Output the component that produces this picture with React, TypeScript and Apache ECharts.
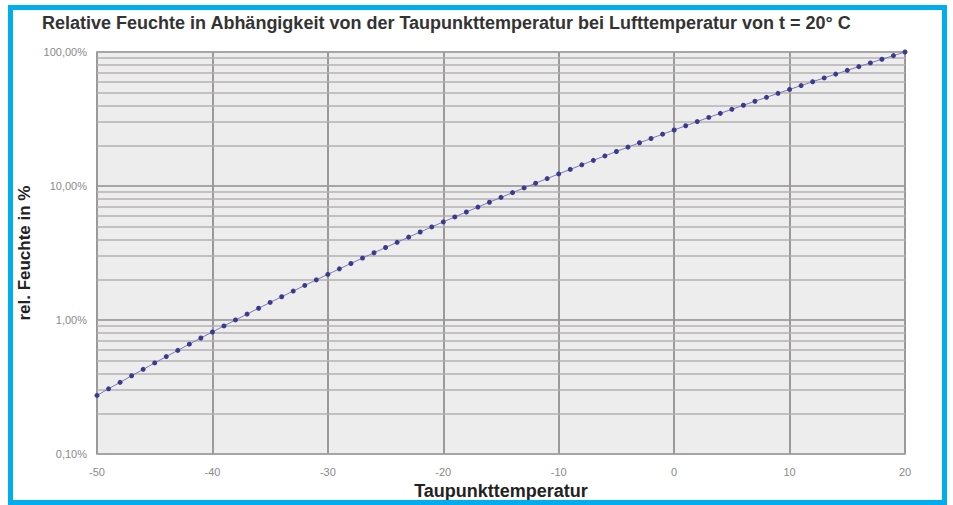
import React, { useEffect, useRef } from "react";
import * as echarts from "echarts";

const temps: number[] = [
  -50, -49, -48, -47, -46, -45, -44, -43, -42, -41,
  -40, -39, -38, -37, -36, -35, -34, -33, -32, -31,
  -30, -29, -28, -27, -26, -25, -24, -23, -22, -21,
  -20, -19, -18, -17, -16, -15, -14, -13, -12, -11,
  -10, -9, -8, -7, -6, -5, -4, -3, -2, -1,
  0, 1, 2, 3, 4, 5, 6, 7, 8, 9,
  10, 11, 12, 13, 14, 15, 16, 17, 18, 19, 20,
];

const humidity: number[] = [
  0.274, 0.307, 0.343, 0.384, 0.429, 0.479, 0.534, 0.594, 0.661, 0.735,
  0.815, 0.904, 1.002, 1.108, 1.225, 1.354, 1.493, 1.646, 1.813, 1.995,
  2.194, 2.41, 2.644, 2.9, 3.177, 3.478, 3.804, 4.157, 4.539, 4.953,
  5.4, 5.884, 6.404, 6.967, 7.573, 8.226, 8.929, 9.684, 10.5, 11.37,
  12.31, 13.31, 14.39, 15.54, 16.78, 18.1, 19.52, 21.03, 22.64, 24.36,
  26.2, 28.17, 30.26, 32.48, 34.85, 37.37, 40.06, 42.91, 45.93, 49.15,
  52.56, 56.18, 60.02, 64.08, 68.39, 72.95, 77.78, 82.88, 88.28, 93.98, 100,
];

const minorGridValues: number[] = [
  0.2, 0.3, 0.4, 0.5, 0.6, 0.7, 0.8, 0.9,
  2, 3, 4, 5, 6, 7, 8, 9,
  20, 30, 40, 50, 60, 70, 80, 90,
];

const titleText =
  "Relative Feuchte in Abhängigkeit von der Taupunkttemperatur bei Lufttemperatur von t = 20° C";
const yName = "rel. Feuchte in %";
const xName = "Taupunkttemperatur";

export default function App() {
  const ref = useRef<HTMLDivElement>(null);
  useEffect(() => {
    document.body.style.margin = "0";
    const chart = echarts.init(ref.current!, undefined, { renderer: "svg" });
    const font = "Liberation Sans, Arial, sans-serif";
    chart.setOption({
      animation: false,
      backgroundColor: "#ffffff",
      title: {
        text: titleText,
        left: 37,
        top: 9,
        textStyle: { fontFamily: font, fontSize: 18, fontWeight: "bold", color: "#333" },
      },
      graphic: [
        {
          type: "rect",
          shape: { x: 10.5, y: 7.5, width: 934, height: 495 },
          style: { fill: "none", stroke: "#00aeef", lineWidth: 5 },
          z: 100,
        },
      ],
      grid: {
        left: 97,
        right: 48,
        top: 52,
        bottom: 48,
        show: true,
        backgroundColor: "#eeeded",
        borderColor: "#bdbaba",
        borderWidth: 2,
      },
      xAxis: {
        type: "value",
        min: -50,
        max: 20,
        interval: 10,
        name: xName,
        nameLocation: "middle",
        nameGap: 26,
        nameTextStyle: { fontFamily: font, fontSize: 18, fontWeight: "bold", color: "#222" },
        axisLine: { show: false },
        axisTick: { show: false },
        axisLabel: { fontFamily: font, fontSize: 11, color: "#8a8a8a", margin: 12 },
        splitLine: { show: true, lineStyle: { color: "#9c9999", width: 2 } },
      },
      yAxis: {
        type: "log",
        logBase: 10,
        min: 0.1,
        max: 100,
        name: yName,
        nameLocation: "middle",
        nameGap: 62,
        nameTextStyle: { fontFamily: font, fontSize: 17, fontWeight: "bold", color: "#222" },
        axisLine: { show: false },
        axisTick: { show: false },
        axisLabel: {
          fontFamily: font,
          fontSize: 11,
          color: "#8a8a8a",
          margin: 10,
          formatter: (v: number) => v.toFixed(2).replace(".", ",") + "%",
        },
        splitLine: { show: true, lineStyle: { color: "#a8a5a5", width: 2 } },
      },
      series: [
        {
          type: "line",
          data: temps.map((t, i) => [t, humidity[i]]),
          symbol: "circle",
          symbolSize: 5,
          itemStyle: { color: "#3b3a8c" },
          lineStyle: { color: "#7a79b8", width: 1 },
          z: 10,
          markLine: {
            silent: true,
            symbol: "none",
            label: { show: false },
            lineStyle: { color: "#b3b0b0", width: 1.5, type: "solid" },
            data: minorGridValues.map((v) => ({ yAxis: v })),
            z: 1,
          },
        },
      ],
    });
    return () => chart.dispose();
  }, []);
  return <div ref={ref} style={{ width: 953, height: 505 }} />;
}
